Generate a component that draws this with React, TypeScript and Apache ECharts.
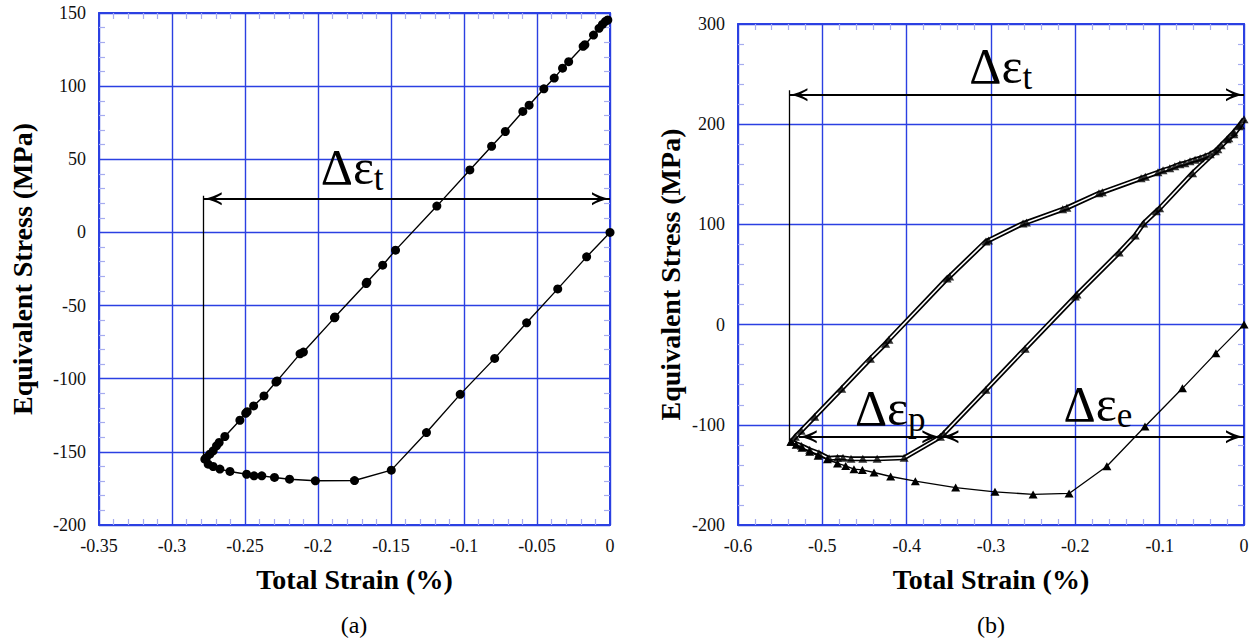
import React, { useEffect, useRef } from 'react';
import * as echarts from 'echarts';

// ---------- axes ----------
const xTicksA = [-0.35, -0.3, -0.25, -0.2, -0.15, -0.1, -0.05, 0];
const yTicksA = [-200, -150, -100, -50, 0, 50, 100, 150];
const xTicksB = [-0.6, -0.5, -0.4, -0.3, -0.2, -0.1, 0];
const yTicksB = [-200, -100, 0, 100, 200, 300];

// ---------- (a) ----------
const strainA = [
  0, -0.016, -0.0358, -0.0571, -0.079, -0.1026, -0.1257, -0.1498, -0.175, -0.2018, -0.2195,
  -0.2298, -0.2385, -0.2438, -0.2489, -0.2603, -0.2672, -0.2718, -0.2752, -0.2775,
  -0.2764, -0.2741, -0.2718, -0.2695, -0.2677, -0.2638, -0.2535, -0.2495, -0.2485, -0.2441,
  -0.237, -0.2288, -0.228, -0.2123, -0.21, -0.1887, -0.1884, -0.167, -0.1665, -0.1557,
  -0.1469, -0.1186, -0.096, -0.0811, -0.0717, -0.0597, -0.0554, -0.0453, -0.0382, -0.0325,
  -0.0283, -0.0184, -0.0172, -0.0113, -0.0075, -0.0052, -0.0031, -0.0015,
];
const stressA = [
  0, -16.7, -38.6, -61.8, -86.1, -110.7, -136.8, -162.5, -169.6, -169.8, -168.7,
  -167.5, -166.4, -166.4, -165.3, -163.4, -161.8, -160, -158.4, -155,
  -153.9, -151.6, -149.3, -145.9, -143.6, -139.5, -128.4, -123.6, -122.5, -118.6,
  -111.8, -102.3, -101.5, -83, -81.8, -58.4, -57.8, -34.9, -34, -22.4,
  -12.1, 18.0, 42.7, 58.9, 69.0, 82.7, 87.0, 98.2, 105.5, 112.3,
  116.7, 127.2, 128.3, 134.9, 139.5, 142.2, 144.3, 145.2,
];

// ---------- (b) ----------
const strainB0 = [
  0, -0.0333, -0.073, -0.1174, -0.1626, -0.2074, -0.2501, -0.2953, -0.3419, -0.3897,
  -0.419, -0.4387, -0.4525, -0.4625, -0.4723, -0.482, -0.494, -0.505, -0.515, -0.524,
  -0.531, -0.537,
];
const stressB0 = [
  0, -28.5, -63.6, -101.7, -141.4, -168.5, -169.5, -166.9, -162.6, -156.3,
  -151.6, -147.6, -145, -144.3, -141, -138.5, -134.5, -131, -127, -123,
  -120, -117,
];
const strainLoop = [
  -0.537, -0.532, -0.525, -0.509, -0.477, -0.443, -0.425, -0.421, -0.352, -0.349,
  -0.306, -0.303, -0.262, -0.258, -0.215, -0.21, -0.172, -0.168, -0.122, -0.117,
  -0.102, -0.096, -0.088, -0.082, -0.076, -0.07, -0.064, -0.058, -0.052, -0.046,
  -0.04, -0.034, -0.027, -0.02, -0.012, -0.006, 0,
  -0.004, -0.012, -0.018, -0.031, -0.061, -0.1, -0.104, -0.119, -0.129, -0.148,
  -0.198, -0.2, -0.2595, -0.306, -0.356, -0.36, -0.403, -0.435, -0.452, -0.466,
  -0.4755, -0.482, -0.492, -0.504, -0.515, -0.525, -0.537,
];
const stressLoop = [
  -117, -112, -106, -92, -64, -34, -19, -15, 46, 48,
  83, 84, 101, 102, 115, 116.5, 131, 132, 146, 147.5,
  152, 154, 156, 158, 160, 161, 163, 164.5, 166, 168,
  170, 173, 179, 185, 192, 198, 205,
  199, 190, 186, 175, 151, 116, 113, 101, 89, 72,
  30, 28, -24, -65, -109, -112, -133, -134, -134, -134,
  -133, -133, -133.5, -128.5, -125, -121, -117,
];

// annotation anchors (data coordinates)
const annA = { tip: -0.2783, y: 23, bottom: -154.6, top: 25, label: [-0.1766, 45] };
const annB = {
  tip: -0.539, yT: 229.5, top: 234, bottom: -117, yPE: -112, split: -0.36, pStart: -0.528,
  labT: [-0.2885, 258], labP: [-0.4195, -83], labE: [-0.1733, -79],
};

const zip = (xs: number[], ys: number[]) => xs.map((x, i) => [x, ys[i]]);

const serif = 'Liberation Serif';
const blue = '#2b40e2';
const minorBlue = '#a6acf0';
const arrow = 'path://M7 0 Q9 10 14 18 L11.6 18 Q9 13.5 7 10.5 Q5 13.5 2.4 18 L0 18 Q5 10 7 0 Z';

function axis(ticks: number[], gridIndex: number, position: string, main: boolean, name?: string, nameGap?: number) {
  const isX = position === 'top' || position === 'bottom';
  return {
    type: 'value',
    gridIndex,
    position,
    min: ticks[0],
    max: ticks[ticks.length - 1],
    interval: Math.round((ticks[1] - ticks[0]) * 1000) / 1000,
    name: main ? name : undefined,
    nameLocation: 'middle',
    nameGap,
    nameTextStyle: { fontFamily: serif, fontWeight: 'bold', fontSize: 28, color: '#000' },
    axisLine: { show: true, onZero: false, lineStyle: { color: blue, width: 2 } },
    axisTick: { show: false, inside: true },
    minorTick: { show: true, splitNumber: 5, length: 6, lineStyle: { color: minorBlue, width: 1.2 } },
    minorSplitLine: { show: false },
    splitLine: { show: main, lineStyle: { color: blue, width: 1.4 } },
    axisLabel: {
      show: main,
      fontFamily: serif,
      fontSize: 18,
      color: '#111',
      margin: isX ? 12 : 13,
    },
  };
}

const textRich = {
  d: { fontFamily: serif, fontSize: 50, color: '#000' },
  s: { fontFamily: serif, fontSize: 35, color: '#000', verticalAlign: 'bottom', padding: [0, 0, -4, 0] },
};

function label(coord: number[], sub: string) {
  return {
    coord,
    label: { formatter: `{d|Δε}{s|${sub}}` },
  };
}

const markPointBase = {
  silent: true,
  symbol: 'circle',
  symbolSize: 1,
  itemStyle: { color: 'rgba(0,0,0,0)' },
  label: { show: true, position: 'inside', rich: textRich },
};

const markLineBase = {
  silent: true,
  animation: false,
  symbol: [arrow, arrow],
  symbolSize: [13, 18],
  symbolOffset: [[0, 9], [0, 9]],
  label: { show: false },
  emphasis: { disabled: true },
  lineStyle: { color: '#000', width: 2, type: 'solid', opacity: 1 },
};

const captionStyle = { fontFamily: serif, fontSize: 24, fill: '#000', align: 'center', verticalAlign: 'middle' };

const option = {
  animation: false,
  backgroundColor: '#fff',
  textStyle: { fontFamily: serif },
  grid: [
    { left: 99, top: 13, width: 511, height: 512 },
    { left: 738, top: 24, width: 506, height: 501 },
  ],
  xAxis: [
    axis(xTicksA, 0, 'bottom', true, 'Total Strain (%)', 40),
    axis(xTicksA, 0, 'top', false),
    axis(xTicksB, 1, 'bottom', true, 'Total Strain (%)', 40),
    axis(xTicksB, 1, 'top', false),
  ],
  yAxis: [
    axis(yTicksA, 0, 'left', true, 'Equivalent Stress (MPa)', 63),
    axis(yTicksA, 0, 'right', false),
    axis(yTicksB, 1, 'left', true, 'Equivalent Stress (MPa)', 54),
    axis(yTicksB, 1, 'right', false),
  ],
  graphic: [
    { type: 'text', x: 354, y: 625, style: { text: '(a)', ...captionStyle } },
    { type: 'text', x: 991, y: 625, style: { text: '(b)', ...captionStyle } },
  ],
  series: [
    {
      type: 'line',
      xAxisIndex: 0,
      yAxisIndex: 0,
      data: zip(strainA, stressA),
      symbol: 'circle',
      symbolSize: 9,
      showAllSymbol: true,
      itemStyle: { color: '#000' },
      lineStyle: { color: '#000', width: 1.4 },
      z: 3,
      markLine: {
        ...markLineBase,
        data: [
          [{ coord: [annA.tip, annA.y] }, { coord: [0, annA.y] }],
          [
            { coord: [annA.tip, annA.top], symbol: 'none', lineStyle: { width: 1.3 } },
            { coord: [annA.tip, annA.bottom], symbol: 'none' },
          ],
        ],
      },
      markPoint: { ...markPointBase, data: [label(annA.label, 't')] },
    },
    {
      type: 'line',
      xAxisIndex: 2,
      yAxisIndex: 2,
      data: zip(strainLoop, stressLoop),
      symbol: 'none',
      lineStyle: { color: '#000', width: 5 },
      z: 2,
    },
    {
      type: 'line',
      xAxisIndex: 2,
      yAxisIndex: 2,
      data: zip(strainLoop, stressLoop),
      symbol: 'none',
      lineStyle: { color: '#fff', width: 1.6 },
      z: 3,
    },
    {
      type: 'scatter',
      xAxisIndex: 2,
      yAxisIndex: 2,
      data: zip(strainLoop, stressLoop),
      symbol: 'triangle',
      symbolSize: [9, 8],
      itemStyle: { color: '#000' },
      z: 4,
    },
    {
      type: 'line',
      xAxisIndex: 2,
      yAxisIndex: 2,
      data: zip(strainB0, stressB0),
      symbol: 'triangle',
      symbolSize: [9, 8],
      showAllSymbol: true,
      itemStyle: { color: '#000' },
      lineStyle: { color: '#000', width: 1.3 },
      z: 4,
      markLine: {
        ...markLineBase,
        data: [
          [{ coord: [annB.tip, annB.yT] }, { coord: [0, annB.yT] }],
          [{ coord: [annB.pStart, annB.yPE] }, { coord: [annB.split, annB.yPE] }],
          [{ coord: [annB.split, annB.yPE] }, { coord: [0, annB.yPE] }],
          [
            { coord: [annB.tip, annB.top], symbol: 'none', lineStyle: { width: 1.3 } },
            { coord: [annB.tip, annB.bottom], symbol: 'none' },
          ],
        ],
      },
      markPoint: {
        ...markPointBase,
        data: [label(annB.labT, 't'), label(annB.labP, 'p'), label(annB.labE, 'e')],
      },
    },
  ],
};

export default function App() {
  const ref = useRef<HTMLDivElement>(null);
  useEffect(() => {
    const chart = echarts.init(ref.current!, null, { renderer: 'svg' });
    chart.setOption(option as any);
    return () => chart.dispose();
  }, []);
  return (
    <div
      ref={ref}
      style={{ position: 'absolute', left: 0, top: 0, width: 1253, height: 644, background: '#fff' }}
    />
  );
}
